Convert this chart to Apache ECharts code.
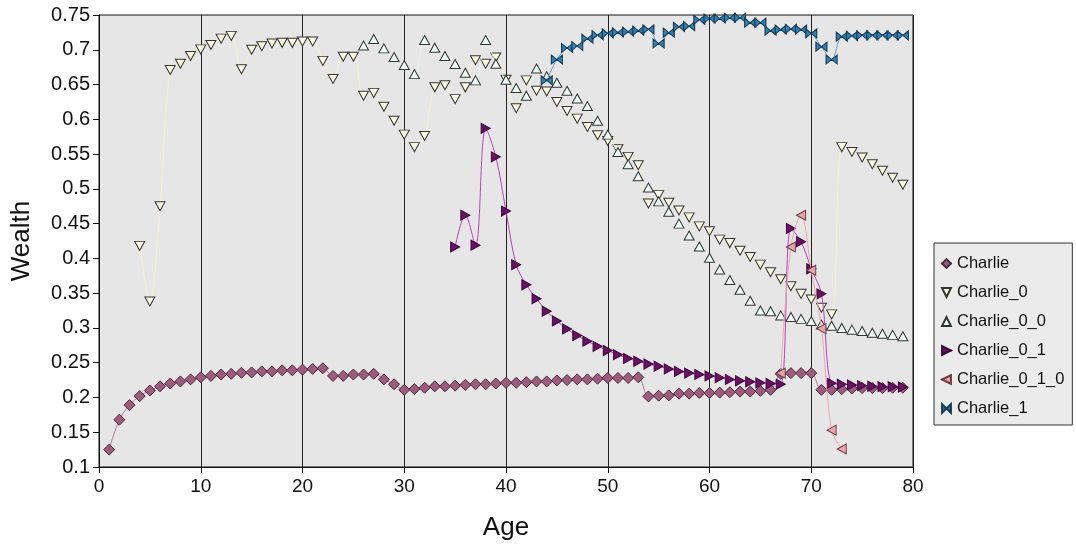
<!DOCTYPE html>
<html>
<head>
<meta charset="utf-8">
<script src="https://cdn.jsdelivr.net/npm/echarts@6/dist/echarts.min.js"></script>
<style>
html,body{margin:0;padding:0;background:#fff;}
#chart{width:1076px;height:548px;}
</style>
</head>
<body>
<div id="chart"></div>
<script>
const ages = [1,2,3,4,5,6,7,8,9,10,11,12,13,14,15,16,17,18,19,20,21,22,23,24,25,26,27,28,29,30,31,32,33,34,35,36,37,38,39,40,41,42,43,44,45,46,47,48,49,50,51,52,53,54,55,56,57,58,59,60,61,62,63,64,65,66,67,68,69,70,71,72,73,74,75,76,77,78,79];
const xTicks = [0,10,20,30,40,50,60,70,80];
const yTicks = [0.1,0.15,0.2,0.25,0.3,0.35,0.4,0.45,0.5,0.55,0.6,0.65,0.7,0.75];

const charlie = [0.125,0.168,0.189,0.202,0.210,0.216,0.220,0.223,0.226,0.229,
0.231,0.233,0.234,0.2355,0.236,0.2375,0.2375,0.239,0.239,0.240,
0.241,0.242,0.231,0.231,0.233,0.233,0.234,0.226,0.219,0.211,
0.212,0.214,0.216,0.216,0.217,0.218,0.219,0.219,0.220,0.221,
0.221,0.222,0.223,0.223,0.2245,0.225,0.226,0.226,0.227,0.228,
0.228,0.228,0.229,0.2015,0.2025,0.203,0.2055,0.2055,0.2065,0.2065,
0.207,0.2075,0.2085,0.2085,0.2095,0.211,0.234,0.235,0.235,0.235,
0.211,0.211,0.212,0.213,0.2135,0.2135,0.2135,0.214,0.214];

const charlie0 = [null,null,null,0.418,0.338,0.475,0.671,0.680,0.691,0.7006,
0.707,0.716,0.720,0.672,0.700,0.705,0.709,0.710,0.710,0.712,
0.712,0.684,0.658,0.690,0.690,0.634,0.638,0.618,0.598,0.578,
0.560,0.576,0.646,0.649,0.629,0.646,0.685,0.680,0.689,0.657,
0.616,0.656,0.641,0.640,0.625,0.612,0.601,0.589,0.577,0.569,
0.557,0.546,0.534,0.479,0.491,0.480,0.469,0.459,0.446,0.439,
0.427,0.422,0.411,0.402,0.391,0.380,0.370,0.360,0.349,0.341,
0.329,0.3195,0.560,0.553,0.545,0.5355,0.526,0.516,0.506];

const charlie00 = [null,null,null,null,null,null,null,null,null,null,
null,null,null,null,null,null,null,null,null,null,
null,null,null,null,null,0.706,0.7155,0.702,0.6895,0.678,
0.665,0.714,0.703,0.691,0.6795,0.667,0.656,0.714,0.680,0.657,
0.645,0.634,0.673,0.662,0.6525,0.641,0.630,0.619,0.598,0.578,
0.553,0.5355,0.518,0.502,0.482,0.467,0.450,0.433,0.417,0.401,
0.384,0.369,0.355,0.339,0.325,0.324,0.318,0.3156,0.313,0.310,
0.305,0.303,0.300,0.2975,0.2955,0.293,0.2917,0.290,0.288];

const charlie01 = [null,null,null,null,null,null,null,null,null,null,
null,null,null,null,null,null,null,null,null,null,
null,null,null,null,null,null,null,null,null,null,
null,null,null,null,0.4165,0.462,0.419,0.587,0.546,0.468,
0.391,0.362,0.342,0.324,0.310,0.2985,0.289,0.281,0.2735,0.2675,
0.2615,0.256,0.252,0.248,0.245,0.241,0.2375,0.235,0.233,0.231,
0.2285,0.226,0.224,0.2225,0.221,0.220,0.219,0.443,0.424,0.385,
0.349,0.2205,0.219,0.218,0.217,0.216,0.2155,0.2155,0.215];

const charlie010 = [null,null,null,null,null,null,null,null,null,null,
null,null,null,null,null,null,null,null,null,null,
null,null,null,null,null,null,null,null,null,null,
null,null,null,null,null,null,null,null,null,null,
null,null,null,null,null,null,null,null,null,null,
null,null,null,null,null,null,null,null,null,null,
null,null,null,null,null,null,0.235,0.4165,0.462,0.383,
0.299,0.153,0.126,null,null,null,null,null,null];

const charlie1 = [null,null,null,null,null,null,null,null,null,null,
null,null,null,null,null,null,null,null,null,null,
null,null,null,null,null,null,null,null,null,null,
null,null,null,null,null,null,null,null,null,null,
null,null,null,0.656,0.686,0.7025,0.7054,0.716,0.721,0.7236,
0.725,0.726,0.7275,0.7294,0.709,0.7246,0.733,0.734,0.743,0.745,
0.745,0.746,0.746,0.739,0.739,0.7275,0.729,0.730,0.729,0.7236,
0.7044,0.686,0.719,0.720,0.7207,0.7207,0.7207,0.7207,0.7207];

const seriesNames = ['Charlie','Charlie_0','Charlie_0_0','Charlie_0_1','Charlie_0_1_0','Charlie_1'];

function pairs(vals){
  const out = [];
  for (let i = 0; i < ages.length; i++) if (vals[i] != null) out.push([ages[i], vals[i]]);
  return out;
}

const styles = [
  {data: charlie, symbol: 'diamond', size: [11,11], fill: '#9d5c7d', border: '#4a2838', line: '#b5789a'},
  {data: charlie0, symbol: 'path://M0,0 L12,0 L6,10 Z', size: [10,9], fill: '#fdfbe2', border: '#333333', line: '#f6f2cc'},
  {data: charlie00, symbol: 'path://M6,0 L12,10 L0,10 Z', size: [10,9], fill: '#eefaf5', border: '#333333', line: '#e6f3ee'},
  {data: charlie01, symbol: 'path://M0,0 L10,6 L0,12 Z', size: [9,10], fill: '#6a1065', border: '#3a0838', line: '#c03cc0'},
  {data: charlie010, symbol: 'path://M10,0 L0,6 L10,12 Z', size: [9,10], fill: '#eca2aa', border: '#6a3a40', line: '#f2a4ae'},
  {data: charlie1, symbol: 'path://M0,0 L6,5 L0,10 Z M12,0 L12,10 L6,5 Z', size: [11,9], fill: '#2f80b4', border: '#173a55', line: '#5b9ccc'}
];

const series = styles.map((s, i) => ({
  name: seriesNames[i],
  type: 'line',
  data: pairs(s.data),
  smooth: 0.35,
  symbol: s.symbol,
  symbolSize: s.size,
  showAllSymbol: true,
  lineStyle: {color: s.line, width: 1},
  itemStyle: {color: s.fill, borderColor: s.border, borderWidth: 1},
  emphasis: {disabled: true},
  z: 2 + i
}));

const chart = echarts.init(document.getElementById('chart'), null, {renderer: 'canvas'});
chart.setOption({
  animation: false,
  backgroundColor: '#ffffff',
  textStyle: {fontFamily: 'Liberation Sans'},
  grid: {left: 99, top: 15, right: 163, bottom: 81, show: true, backgroundColor: '#e6e6e6', borderColor: '#111', borderWidth: 1},
  legend: {
    orient: 'vertical',
    left: 934, top: 243,
    data: seriesNames,
    backgroundColor: '#ebebeb',
    borderColor: '#333', borderWidth: 1,
    padding: [12, 8, 8, 6],
    itemWidth: 11, itemHeight: 11, itemGap: 12,
    textStyle: {fontSize: 16.5, color: '#111', fontFamily: 'Liberation Sans'}
  },
  xAxis: {
    type: 'value', min: xTicks[0], max: xTicks[xTicks.length-1], interval: 10,
    name: 'Age', nameLocation: 'middle', nameGap: 48,
    nameTextStyle: {fontSize: 26, color: '#111', fontFamily: 'Liberation Sans'},
    axisLine: {show: true, lineStyle: {color: '#111'}},
    axisTick: {show: true, length: 6, inside: false, lineStyle: {color: '#111'}},
    axisLabel: {fontSize: 19, color: '#111', margin: 10},
    splitLine: {show: true, lineStyle: {color: '#222', width: 1}}
  },
  yAxis: {
    type: 'value', min: yTicks[0], max: yTicks[yTicks.length-1], interval: 0.05,
    name: 'Wealth', nameLocation: 'middle', nameGap: 64,
    nameTextStyle: {fontSize: 26, color: '#111', fontFamily: 'Liberation Sans'},
    axisLine: {show: true, lineStyle: {color: '#111'}},
    axisTick: {show: true, length: 6, inside: false, lineStyle: {color: '#111'}},
    axisLabel: {fontSize: 20, color: '#111', margin: 9, formatter: v => String(+v.toFixed(2))},
    splitLine: {show: false}
  },
  series: series
});
</script>
</body>
</html>
